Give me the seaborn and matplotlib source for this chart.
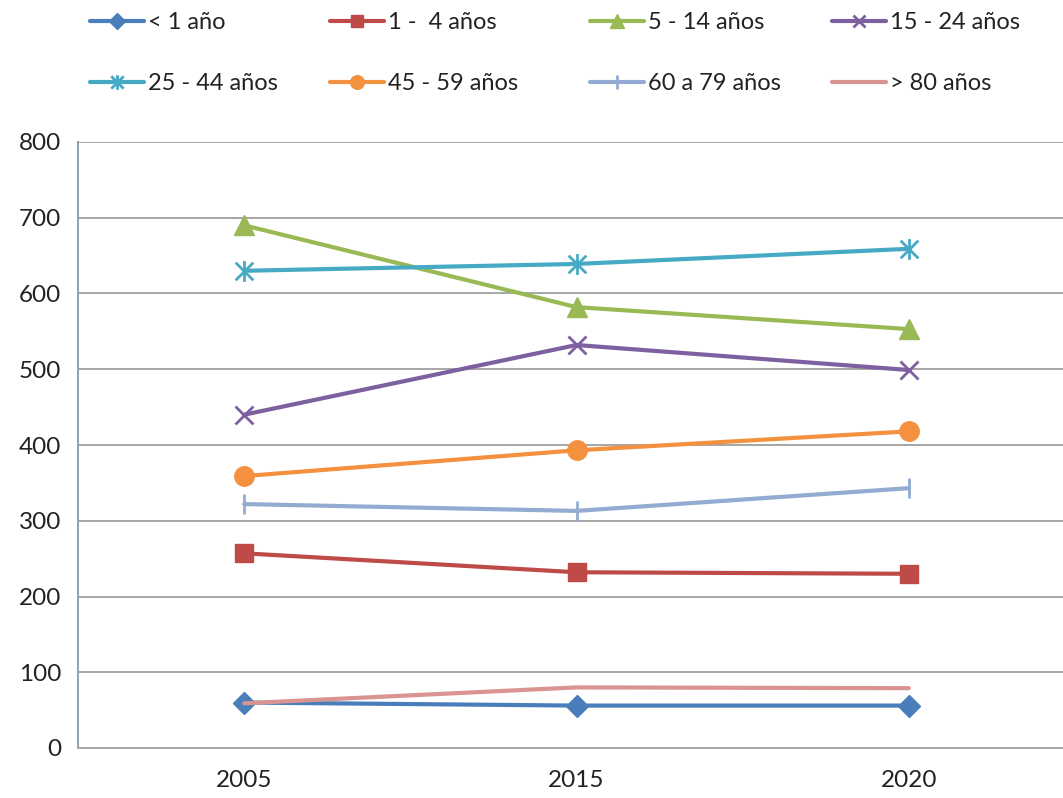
import matplotlib
matplotlib.use("Agg")
import matplotlib.pyplot as plt
from matplotlib.path import Path
import seaborn as sns
import pandas as pd

# Población por grupo de edad
years = ["2005", "2015", "2020"]
labels = ["< 1 año", "1 -  4 años", "5 - 14 años", "15 - 24 años",
          "25 - 44 años", "45 - 59 años", "60 a 79 años", "> 80 años"]
menor_1 = [60, 56, 56]
de_1_4 = [257, 232, 230]
de_5_14 = [690, 582, 553]
de_15_24 = [440, 532, 499]
de_25_44 = [630, 639, 659]
de_45_59 = [359, 393, 418]
de_60_79 = [322, 313, 343]
mayor_80 = [59, 80, 79]
series = [menor_1, de_1_4, de_5_14, de_15_24, de_25_44, de_45_59, de_60_79, mayor_80]

# Asterisco: una barra vertical más una X
asterisk = Path(
    [(0, -1), (0, 1), (-0.85, -0.85), (0.85, 0.85), (-0.85, 0.85), (0.85, -0.85)],
    [Path.MOVETO, Path.LINETO, Path.MOVETO, Path.LINETO, Path.MOVETO, Path.LINETO],
)

colors = ["#4A7EBB", "#BE4B48", "#98B954", "#7D60A0",
          "#46AAC5", "#F4913F", "#93ABD1", "#D99391"]
markers = ["D", "s", "^", "x", asterisk, "o", "|", None]
msizes = [11, 13, 14, 13, 15, 14, 15, 0]
medge = [1, 1, 1, 2, 2, 1, 2, 1]

sns.set_theme(style="white")
plt.rcParams["font.family"] = ["Lato", "DejaVu Sans"]

fig = plt.figure(figsize=(10.63, 7.98), dpi=100)
ax = fig.add_axes([78 / 1063, 50 / 798, (1075 - 78) / 1063, (748 - 142) / 798])

handles = []
for lab, vals, c, m, ms, mew in zip(labels, series, colors, markers, msizes, medge):
    df = pd.DataFrame({"x": range(len(years)), "y": vals})
    sns.lineplot(data=df, x="x", y="y", ax=ax, color=c, linewidth=3,
                 marker=m, markersize=ms, markeredgewidth=mew,
                 markeredgecolor=c, markerfacecolor=c, label=lab, legend=False)
    handles.append(ax.lines[-1])

ax.set_xlim(-0.5, 2.5)
ax.set_ylim(0, 800)
ax.set_yticks(range(0, 801, 100))
ax.set_xticks(range(len(years)))
ax.set_xticklabels(years)
ax.set_xlabel("")
ax.set_ylabel("")
ax.tick_params(axis="both", labelsize=17.5, colors="#222222", length=0)
ax.tick_params(axis="y", pad=12)
ax.tick_params(axis="x", pad=16)
ax.yaxis.grid(True, color="#A6A6A6", linewidth=1.4)
ax.set_axisbelow(True)
for side in ["top", "right"]:
    ax.spines[side].set_visible(False)
ax.spines["left"].set_color("#8EA0BC")
ax.spines["left"].set_linewidth(1.4)
ax.spines["bottom"].set_color("#A6A6A6")
ax.spines["bottom"].set_linewidth(1.4)

# Leyenda en dos filas de cuatro entradas
col_x = [90, 330, 590, 832]
for i, x in enumerate(col_x):
    pair = [handles[i], handles[i + 4]]
    fig.legend(pair, [labels[i], labels[i + 4]], loc="upper left",
               bbox_to_anchor=(x / 1063, 1 - 12 / 798), frameon=False,
               fontsize=17, handlelength=2.3, handletextpad=0.15,
               labelspacing=1.7, borderaxespad=0, borderpad=0,
               markerscale=0.7, labelcolor="#222222")

fig.savefig("out.png", dpi=100, facecolor="white")
